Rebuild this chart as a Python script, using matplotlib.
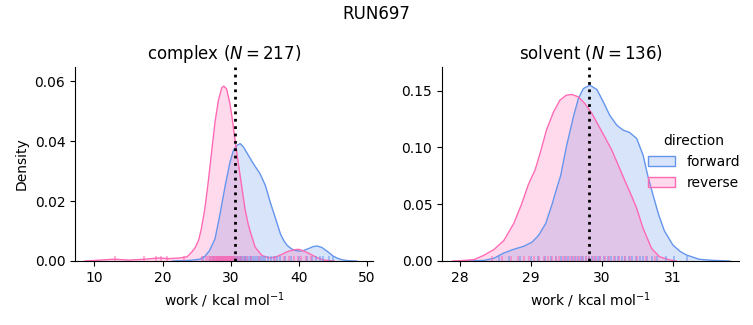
import numpy as np
import matplotlib
matplotlib.use("Agg")
import matplotlib.pyplot as plt
import matplotlib.patches as mpatches
import seaborn as sns

# colours per direction
forward_color = "cornflowerblue"
reverse_color = "hotpink"

# complex leg: density curves
cx_fwd_x = [21.5, 24.0, 25.5, 26.2, 26.9, 27.7, 28.4, 29.2, 29.9, 30.4, 30.9, 31.4, 31.9,
            32.6, 33.3, 34.3, 35.1, 35.8, 36.6, 37.3, 37.8, 38.3, 38.9, 39.5, 40.1,
            40.7, 41.5, 42.1, 42.7, 43.4, 44.2, 45.0, 45.7, 46.4, 47.2, 48.5]
cx_fwd_y = [0.0, 0.0002, 0.0006, 0.0015, 0.0035, 0.0074, 0.0152, 0.0252, 0.0330, 0.0369,
            0.0386, 0.0392, 0.0380, 0.0353, 0.0326, 0.0292, 0.0252, 0.0197, 0.0141,
            0.0091, 0.0068, 0.0052, 0.0041, 0.0035, 0.0033, 0.0035, 0.0042, 0.0048,
            0.0050, 0.0045, 0.0032, 0.0017, 0.0009, 0.0004, 0.0001, 0.0]
cx_rev_x = [8.6, 10.1, 12.9, 15.0, 17.4, 19.4, 20.9, 22.5, 23.6, 24.3, 24.8, 25.3, 25.7,
            26.2, 26.7, 27.2, 27.7, 28.2, 28.7, 29.0, 29.4, 29.9, 30.3, 30.6, 31.1,
            31.6, 32.1, 32.5, 32.9, 33.6, 34.6, 35.8, 36.8, 37.5, 38.3, 39.2, 40.0,
            40.8, 41.7, 42.7, 43.7, 45.2]
cx_rev_y = [0.0, 0.0002, 0.0006, 0.0003, 0.0006, 0.0010, 0.0008, 0.0010, 0.0014, 0.0030,
            0.0045, 0.0070, 0.0108, 0.0174, 0.0263, 0.0364, 0.0464, 0.0537, 0.0579,
            0.0584, 0.0575, 0.0525, 0.0464, 0.0410, 0.0330, 0.0252, 0.0174, 0.0130,
            0.0096, 0.0046, 0.0018, 0.0010, 0.0015, 0.0022, 0.0031, 0.0037, 0.0039,
            0.0033, 0.0023, 0.0011, 0.0003, 0.0]
cx_fwd_rug = [25.9, 27.0, 27.4, 27.6, 28.0, 28.3, 28.5, 28.7, 29.0, 29.3, 29.6, 29.9, 30.2,
              30.4, 30.7, 30.9, 31.1, 31.3, 31.5, 31.7, 31.9, 32.1, 32.3, 32.6, 32.8,
              33.0, 33.3, 33.6, 33.9, 34.2, 34.5, 34.8, 35.1, 35.5, 35.9, 36.3, 36.8,
              37.3, 38.0, 38.9, 40.1, 41.2, 41.9, 42.5, 43.1, 43.6, 44.4, 45.0]
cx_rev_rug = [13.0, 17.3, 19.0, 19.8, 20.6, 23.2, 25.8, 26.4, 26.7, 26.9, 27.1, 27.2, 27.4,
              27.5, 27.7, 27.8, 27.9, 28.0, 28.1, 28.2, 28.3, 28.4, 28.5, 28.6, 28.7,
              28.8, 28.9, 29.0, 29.1, 29.2, 29.3, 29.4, 29.5, 29.6, 29.7, 29.8, 29.9,
              30.0, 30.1, 30.2, 30.3, 30.5, 30.7, 30.9, 31.2, 31.5, 31.9, 32.4, 33.0,
              34.2, 36.5, 37.8, 38.6, 39.3, 39.9, 40.4, 41.0, 41.8]
cx_estimate = 30.65

# solvent leg
sv_fwd_x = [28.0, 28.2, 28.34, 28.48, 28.62, 28.76, 28.90, 29.02, 29.11, 29.21, 29.30,
            29.37, 29.42, 29.50, 29.60, 29.67, 29.74, 29.83, 29.93, 30.02, 30.11,
            30.21, 30.30, 30.39, 30.49, 30.58, 30.65, 30.72, 30.80, 30.88, 31.00,
            31.10, 31.19, 31.37, 31.55, 31.80]
sv_fwd_y = [0.0, 0.0002, 0.0005, 0.0024, 0.0070, 0.0103, 0.0129, 0.0167, 0.0226, 0.033,
            0.050, 0.065, 0.075, 0.1004, 0.127, 0.143, 0.1517, 0.1547, 0.1509, 0.140,
            0.1283, 0.1195, 0.1151, 0.1131, 0.1078, 0.0931, 0.074, 0.058, 0.0405,
            0.0265, 0.014, 0.0085, 0.0053, 0.0015, 0.0006, 0.0]
sv_rev_x = [27.9, 28.01, 28.2, 28.34, 28.48, 28.62, 28.76, 28.87, 28.97, 29.06, 29.13,
            29.22, 29.32, 29.41, 29.50, 29.58, 29.67, 29.76, 29.86, 29.95, 30.04,
            30.14, 30.23, 30.32, 30.42, 30.49, 30.58, 30.70, 30.81, 30.95, 31.05]
sv_rev_y = [0.0, 0.0003, 0.0012, 0.005, 0.010, 0.018, 0.033, 0.050, 0.068, 0.080, 0.0946,
            0.1151, 0.1312, 0.1415, 0.1459, 0.1465, 0.1444, 0.1386, 0.1298, 0.1195,
            0.1092, 0.0975, 0.0844, 0.0712, 0.057, 0.0463, 0.0287, 0.011, 0.0038,
            0.001, 0.0]
sv_fwd_rug = [28.55, 28.7, 28.85, 29.0, 29.1, 29.2, 29.28, 29.35, 29.42, 29.48, 29.53,
              29.58, 29.62, 29.66, 29.7, 29.74, 29.78, 29.82, 29.86, 29.9, 29.94, 29.98,
              30.03, 30.08, 30.13, 30.18, 30.23, 30.28, 30.33, 30.38, 30.43, 30.48,
              30.53, 30.58, 30.64, 30.7, 30.78, 30.9, 31.02, 31.2]
sv_rev_rug = [28.45, 28.6, 28.72, 28.82, 28.9, 28.98, 29.05, 29.12, 29.18, 29.24, 29.3,
              29.35, 29.4, 29.45, 29.5, 29.55, 29.6, 29.64, 29.68, 29.72, 29.77, 29.82,
              29.87, 29.92, 29.98, 30.04, 30.1, 30.17, 30.24, 30.32, 30.4, 30.5, 30.62,
              30.75]
sv_estimate = 29.82

fig = plt.figure(figsize=(7.53, 3.25), dpi=100)
ax1 = fig.add_axes([75 / 753, 64 / 325, 298 / 753, 194 / 325])
ax2 = fig.add_axes([442 / 753, 64 / 325, 297 / 753, 194 / 325])


def draw_leg(ax, fx, fy, rx, ry, frug, rrug, est, n, name):
    for x, y, c in [(fx, fy, forward_color), (rx, ry, reverse_color)]:
        ax.fill_between(x, y, 0, color=c, alpha=0.25, linewidth=0)
        ax.plot(x, y, color=c, linewidth=1)
    sns.rugplot(x=frug, ax=ax, color=forward_color, height=0.025, alpha=0.6, linewidth=1.2)
    sns.rugplot(x=rrug, ax=ax, color=reverse_color, height=0.025, alpha=0.6, linewidth=1.2)
    ax.axvline(est, color="black", linestyle=":", linewidth=2)
    ax.set_title(f"{name} ($N = {n}$)", fontsize=12)
    ax.set_xlabel("work / kcal mol$^{-1}$")
    ax.spines["top"].set_visible(False)
    ax.spines["right"].set_visible(False)


draw_leg(ax1, cx_fwd_x, cx_fwd_y, cx_rev_x, cx_rev_y, cx_fwd_rug, cx_rev_rug,
         cx_estimate, 217, "complex")
draw_leg(ax2, sv_fwd_x, sv_fwd_y, sv_rev_x, sv_rev_y, sv_fwd_rug, sv_rev_rug,
         sv_estimate, 136, "solvent")

ax1.set_xlim(7.14, 50.9)
ax1.set_ylim(0, 0.0648)
ax1.set_xticks([10, 20, 30, 40, 50])
ax1.set_yticks([0.0, 0.02, 0.04, 0.06])
ax1.set_ylabel("Density")

ax2.set_xlim(27.75, 31.93)
ax2.set_ylim(0, 0.1707)
ax2.set_xticks([28, 29, 30, 31])
ax2.set_yticks([0.0, 0.05, 0.10, 0.15])

handles = [mpatches.Patch(facecolor=matplotlib.colors.to_rgba(forward_color, 0.25),
                          edgecolor=forward_color, label="forward"),
           mpatches.Patch(facecolor=matplotlib.colors.to_rgba(reverse_color, 0.25),
                          edgecolor=reverse_color, label="reverse")]
fig.legend(handles=handles, title="direction", frameon=False, loc="center left",
           bbox_to_anchor=(635 / 753, 1 - 162 / 325), fontsize=10, title_fontsize=10)

fig.suptitle("RUN697", fontsize=12, y=0.985)
fig.savefig("out.png", dpi=100)
